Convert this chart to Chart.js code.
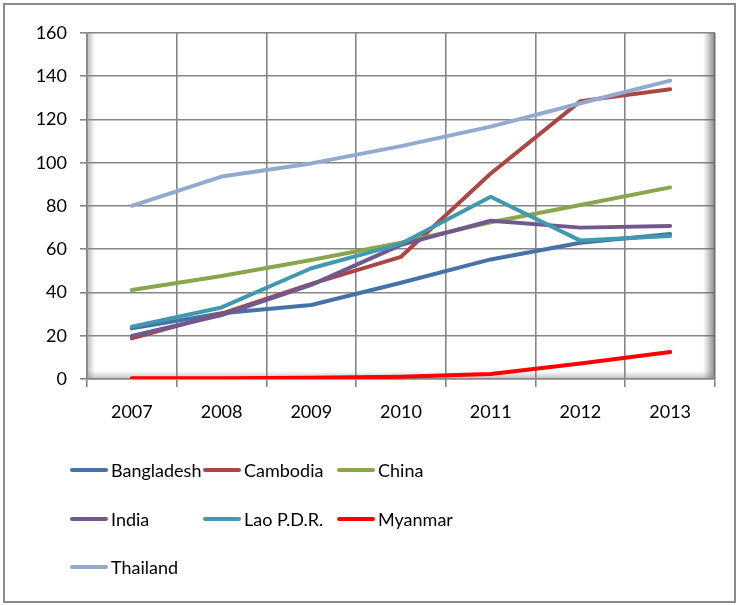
<!DOCTYPE html>
<html>
<head>
<meta charset="utf-8">
<script src="https://cdn.jsdelivr.net/npm/chart.js@4/dist/chart.umd.min.js"></script>
<style>
  html, body { margin: 0; padding: 0; background: #fff; }
  #wrap { position: relative; width: 738px; height: 605px; overflow: hidden; font-family: Lato, sans-serif; }
  #frame { position: absolute; left: 3px; top: 3px; width: 729px; height: 596px; border: 2px solid #8a8a8a; }
  #chart { position: absolute; left: 0; top: 0; }
  #legend { position: absolute; left: 70px; top: 456px; display: grid; grid-template-columns: 133px 134px 134px; grid-auto-rows: 48.5px; }
  .item { display: flex; align-items: center; height: 28px; font-size: 18px; color: #000; white-space: nowrap; }
  .swatch { flex: 0 0 38px; height: 4px; border-radius: 2px; margin-right: 3px; }
</style>
</head>
<body>
<div id="wrap">
  <div id="frame"></div>
  <canvas id="chart" width="738" height="605"></canvas>
  <div id="legend"></div>
</div>
<script>
const years = ['2007', '2008', '2009', '2010', '2011', '2012', '2013'];

const bangladesh = [23.4, 30.4, 34.2, 44.5, 55.3, 63, 67];
const cambodia   = [18.8, 30.2, 44, 56.5, 95, 128.5, 134];
const china      = [41.2, 47.6, 55, 63, 72.5, 80.5, 88.6];
const india      = [19.9, 29.6, 43.5, 62, 73.2, 70, 70.8];
const lao        = [24.2, 33.1, 51.2, 62.5, 84.3, 64, 66.1];
const myanmar    = [0.3, 0.4, 0.6, 1.0, 2.3, 7.2, 12.5];
const thailand   = [80.1, 93.6, 99.7, 107.7, 116.7, 127.5, 138];

const seriesNames  = ['Bangladesh', 'Cambodia', 'China', 'India', 'Lao P.D.R.', 'Myanmar', 'Thailand'];
const seriesValues = [bangladesh, cambodia, china, india, lao, myanmar, thailand];
const seriesColors = ['#4572a7', '#aa4643', '#89a54e', '#71588f', '#4198af', '#ff0000', '#93a9cf'];

const tickFont = { family: 'Lato, sans-serif', size: 18 };

// Excel-like shaded edges on the plot area
const plotShade = {
  id: 'plotShade',
  beforeDatasetsDraw(chart) {
    const { ctx, chartArea: a } = chart;
    ctx.save();
    let g = ctx.createLinearGradient(a.right - 12, 0, a.right, 0);
    g.addColorStop(0, 'rgba(120,120,120,0)');
    g.addColorStop(1, 'rgba(100,100,100,0.8)');
    ctx.fillStyle = g;
    ctx.fillRect(a.right - 12, a.top, 12, a.bottom - a.top);
    g = ctx.createLinearGradient(a.left, 0, a.left + 8, 0);
    g.addColorStop(0, 'rgba(140,140,140,0.6)');
    g.addColorStop(1, 'rgba(140,140,140,0)');
    ctx.fillStyle = g;
    ctx.fillRect(a.left, a.top, 8, a.bottom - a.top);
    g = ctx.createLinearGradient(0, a.bottom - 8, 0, a.bottom);
    g.addColorStop(0, 'rgba(140,140,140,0)');
    g.addColorStop(1, 'rgba(140,140,140,0.55)');
    ctx.fillStyle = g;
    ctx.fillRect(a.left, a.bottom - 8, a.right - a.left, 8);
    ctx.restore();
  }
};

const datasets = seriesNames.map((name, i) => ({
  label: name,
  data: seriesValues[i],
  borderColor: seriesColors[i],
  backgroundColor: seriesColors[i],
  borderWidth: 4,
  pointRadius: 0,
  tension: 0,
  borderCapStyle: 'round',
  borderJoinStyle: 'round',
  order: seriesNames.length - i
}));

const chart = new Chart(document.getElementById('chart'), {
  type: 'line',
  data: { labels: years, datasets: datasets },
  plugins: [plotShade],
  options: {
    responsive: false,
    animation: false,
    layout: { padding: { left: 0, top: 33, right: 23, bottom: 166 } },
    plugins: {
      legend: { display: false },
      tooltip: { enabled: false }
    },
    scales: {
      x: {
        offset: true,
        grid: { offset: true, color: '#858585', lineWidth: 1.6, tickLength: 8 },
        border: { color: '#858585', width: 1.6 },
        ticks: { color: '#000', font: tickFont, padding: 14, maxRotation: 0 },
        afterFit(scale) { scale.height = 60; }
      },
      y: {
        min: 0,
        max: 160,
        ticks: { stepSize: 20, color: '#000', font: tickFont, padding: 13 },
        grid: { color: '#858585', lineWidth: 1.6, tickLength: 7 },
        border: { color: '#858585', width: 1.6 },
        afterFit(scale) { scale.width = 87; }
      }
    }
  }
});

// LEGEND
const legend = document.getElementById('legend');
chart.data.datasets.forEach(ds => {
  const item = document.createElement('div');
  item.className = 'item';
  item.innerHTML = `<span class="swatch" style="background:${ds.borderColor}"></span>${ds.label}`;
  legend.appendChild(item);
});
</script>
</body>
</html>
